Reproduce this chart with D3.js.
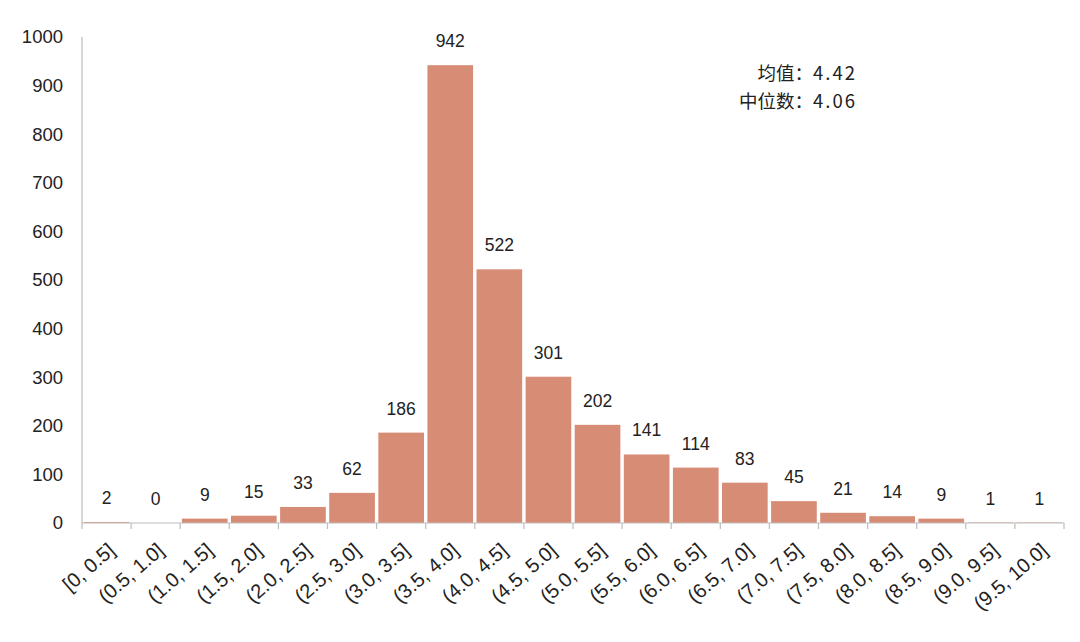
<!DOCTYPE html>
<html><head><meta charset="utf-8">
<script src="https://cdn.jsdelivr.net/npm/d3@7"></script>
<style>body{margin:0;background:#fff;} svg{display:block;}</style>
</head><body>
<svg id="c" width="1080" height="642"></svg>
<script>
const categories = ["[0, 0.5]","(0.5, 1.0]","(1.0, 1.5]","(1.5, 2.0]","(2.0, 2.5]","(2.5, 3.0]","(3.0, 3.5]","(3.5, 4.0]","(4.0, 4.5]","(4.5, 5.0]","(5.0, 5.5]","(5.5, 6.0]","(6.0, 6.5]","(6.5, 7.0]","(7.0, 7.5]","(7.5, 8.0]","(8.0, 8.5]","(8.5, 9.0]","(9.0, 9.5]","(9.5, 10.0]"];
const counts = [2,0,9,15,33,62,186,942,522,301,202,141,114,83,45,21,14,9,1,1];
const yTicks = [0,100,200,300,400,500,600,700,800,900,1000];
const noteLabels = ["均值：","中位数："];
const noteValues = ["4.42","4.06"];

(function(){
const svg = d3.select("#c");
const mL = 82, mR = 1064, mT = 37, mB = 523;
const x = d3.scaleBand().domain(categories).range([mL, mR]).paddingInner(0.07).paddingOuter(0.035);
const xb = d3.scaleBand().domain(categories).range([mL, mR]);
const y = d3.scaleLinear().domain([0,1000]).range([mB, mT]);
const font = "'Liberation Sans', Arial, sans-serif";

svg.append("line").attr("x1",mL).attr("x2",mL).attr("y1",mT).attr("y2",mB).attr("stroke","#bdbdbd").attr("stroke-width",1.2);
svg.append("g").selectAll("text").data(yTicks).join("text")
  .attr("x",63).attr("y",d=>y(d)).attr("dy","0.35em").attr("text-anchor","end")
  .attr("font-family",font).attr("font-size",18.5).attr("fill","#222").text(d=>d);

svg.append("g").selectAll("rect").data(counts).join("rect")
  .attr("x",(d,i)=>x(categories[i])).attr("width",x.bandwidth())
  .attr("y",d=>y(d)).attr("height",d=>mB-y(d)).attr("fill","#d78c76");

svg.append("line").attr("x1",mL).attr("x2",mR).attr("y1",mB).attr("y2",mB).attr("stroke","#bdbdbd").attr("stroke-width",1.2);
const bounds = categories.map(c=>xb(c)).concat([mR]);
svg.append("g").selectAll("line").data(bounds).join("line")
  .attr("x1",d=>d).attr("x2",d=>d).attr("y1",mB).attr("y2",mB+6).attr("stroke","#bdbdbd").attr("stroke-width",1.2);

svg.append("g").selectAll("text").data(counts).join("text")
  .attr("x",(d,i)=>xb(categories[i])+xb.bandwidth()/2).attr("y",d=>y(d)-18)
  .attr("text-anchor","middle").attr("font-family",font).attr("font-size",17.5).attr("fill","#222").text(d=>d);

svg.append("g").selectAll("text").data(categories).join("text")
  .attr("transform",d=>`translate(${xb(d)+xb.bandwidth()/2+5},${mB+24}) rotate(-41)`)
  .attr("text-anchor","end").attr("dy","0.35em").attr("font-family",font).attr("font-size",20).attr("fill","#222").text(d=>d);

const notes = svg.append("g").selectAll("text").data(noteLabels).join("text")
  .attr("x",857).attr("y",(d,i)=>80+i*28).attr("text-anchor","end")
  .attr("font-family","'Noto Sans CJK SC', sans-serif").attr("font-size",18.5).attr("fill","#222");
notes.append("tspan").text(d=>d);
notes.append("tspan").attr("letter-spacing",2).text((d,i)=>noteValues[i]);
})();
</script>
</body></html>
